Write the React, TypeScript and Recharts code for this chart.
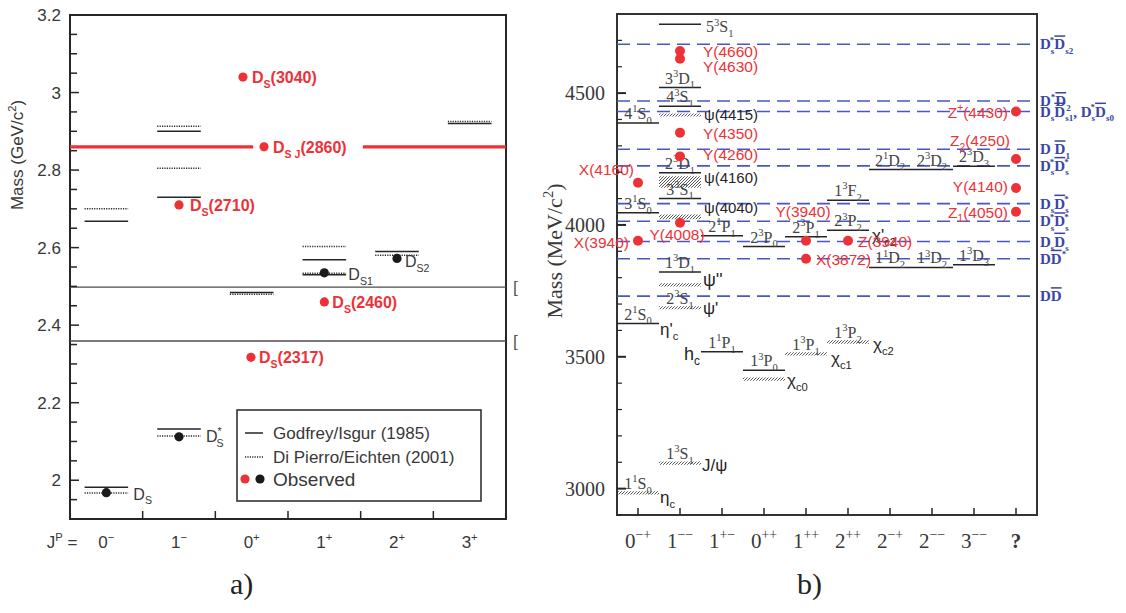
import React from 'react';
import { ComposedChart, XAxis, YAxis, ReferenceLine, ReferenceArea, Scatter, Legend } from 'recharts';

const SANS = '"Liberation Sans", Arial, Helvetica, sans-serif';
const SERIF = '"Liberation Serif", "Times New Roman", Times, serif';
const INK = '#262626';
const TEXT_GREY = '#383838';
const RED = '#ed3237';
const DASH_BLUE = '#4a56c2';
const LABEL_BLUE = '#3a45a5';

// ---------- a) D_s spectrum, masses in GeV/c^2 ----------
const A_JP = ['0^{−}', '1^{−}', '0^{+}', '1^{+}', '2^{+}', '3^{+}'];
// [J^P column, mass] — Godfrey/Isgur predictions (solid)
const A_GODFREY: [number, number][] = [
  [0, 1.982], [0, 2.668], [1, 2.132], [1, 2.73], [1, 2.9], [2, 2.484],
  [3, 2.53], [3, 2.569], [4, 2.59], [5, 2.92],
];
// [J^P column, mass] — Di Pierro/Eichten predictions (dotted)
const A_DIPIERRO: [number, number][] = [
  [0, 1.967], [0, 2.7], [1, 2.114], [1, 2.805], [1, 2.913], [2, 2.48],
  [3, 2.534], [3, 2.603], [4, 2.58], [5, 2.925],
];
const A_OBSERVED_BLACK = [
  { x: 0.5, y: 1.968, name: 'D_S' },
  { x: 1.5, y: 2.112, name: 'D^{*}_{S}' },
  { x: 3.5, y: 2.535, name: 'D_{S1}' },
  { x: 4.5, y: 2.572, name: 'D_{S2}' },
];
const A_OBSERVED_RED = [
  { x: 2.49, y: 2.317, name: 'D_S(2317)' },
  { x: 3.5, y: 2.46, name: 'D_S(2460)' },
  { x: 1.5, y: 2.71, name: 'D_S(2710)' },
  { x: 2.67, y: 2.86, name: 'D_{S J}(2860)' },
  { x: 2.38, y: 3.04, name: 'D_S(3040)' },
];
const A_THRESHOLDS = [2.359, 2.498];
const A_DSJ_MASS = 2.86;
const A_DSJ_SPANS: [number, number][] = [[0, 2.52], [4.03, 6]];
const A_Y_DOMAIN: [number, number] = [1.9, 3.2];
const A_YTICKS = Array.from({ length: 27 }, (_, i) => Math.round((1.9 + i * 0.05) * 100) / 100);
const A_XTICKS = Array.from({ length: 11 }, (_, i) => 0.5 + i * 0.5);

// label offsets (px) for observed states in panel a
const A_LABEL_PLACE: Record<string, [number, number]> = {
  'D_S': [27, 7], 'D^{*}_{S}': [27, 5], 'D_{S1}': [24, 7], 'D_{S2}': [8, 9],
  'D_S(2317)': [8, 6], 'D_S(2460)': [8, 6], 'D_S(2710)': [11, 6],
  'D_{S J}(2860)': [9, 6], 'D_S(3040)': [9, 6],
};

// ---------- b) charmonium spectrum, masses in MeV/c^2 ----------
const B_JPC = ['0^{−+}', '1^{−−}', '1^{+−}', '0^{++}', '1^{++}', '2^{++}', '2^{−+}', '2^{−−}', '3^{−−}', '?'];
// potential-model levels: [J^PC column, mass, n^{2S+1}L_J]
const B_MODEL: [number, number, string][] = [
  [0, 3626, '2^1S_0'], [0, 4046, '3^1S_0'], [0, 4387, '4^1S_0'],
  [1, 3822, '1^3D_1'], [1, 4100, '3^3S_1'], [1, 4198, '2^3D_1'], [1, 4450, '4^3S_1'],
  [1, 4521, '3^3D_1'], [1, 4761, '5^3S_1'],
  [2, 3519, '1^1P_1'], [2, 3959, '2^1P_1'],
  [3, 3449, '1^3P_0'], [3, 3918, '2^3P_0'],
  [4, 3955, '2^3P_1'],
  [5, 3980, '2^3P_2'], [5, 4094, '1^3F_2'],
  [6, 3839, '1^1D_2'], [6, 4210, '2^1D_2'],
  [7, 3839, '1^3D_2'], [7, 4210, '2^3D_2'],
  [8, 3849, '1^3D_3'], [8, 4223, '2^3D_3'],
];
// names attached to model levels
const B_MODEL_ALIAS: Record<string, string> = {
  '2^1S_0': "η'_c", '1^3D_1': "ψ''", '1^1P_1': 'h_c', '2^3P_2': "χ'_{c2}",
};
// established states (hatched): [column, mass, half width, n^{2S+1}L_J, name]
const B_KNOWN: [number, number, number, string, string][] = [
  [0, 2984, 6, '1^1S_0', 'η_c'],
  [1, 3097, 6, '1^3S_1', 'J/ψ'],
  [1, 3686, 6, '2^3S_1', "ψ'"],
  [1, 3773, 6, '', ''],
  [1, 4031, 9, '', 'ψ(4040)'],
  [1, 4163, 22, '', 'ψ(4160)'],
  [1, 4417, 6, '', 'ψ(4415)'],
  [3, 3415, 6, '', 'χ_{c0}'],
  [4, 3511, 6, '1^3P_1', 'χ_{c1}'],
  [5, 3556, 7, '1^3P_2', 'χ_{c2}'],
];
// open-charm thresholds: [mass, pair]  (~ marks an anti-particle bar)
const B_THRESHOLDS: [number, string][] = [
  [4685, 'D_s^*~D_{s2}'],
  [4470, 'D^*~D_2'],
  [4430, 'D_s~D_{s1}, D_s^*~D_{s0}'],
  [4287, 'D ~D_1'],
  [4224, 'D_s^*~D_s^*'],
  [4081, 'D_s~D_s^*'],
  [4014, 'D_s^*~D_s^*'],
  [3937, 'D_s~D_s'],
  [3872, 'D~D^*'],
  [3730, 'D~D'],
];
// XYZ states: [column centre, mass, name]
const B_XYZ: [number, number, string][] = [
  [1.5, 4660, 'Y(4660)'], [1.5, 4630, 'Y(4630)'], [1.5, 4350, 'Y(4350)'],
  [1.5, 4260, 'Y(4260)'], [1.5, 4008, 'Y(4008)'],
  [0.5, 4160, 'X(4160)'], [0.5, 3940, 'X(3940)'],
  [4.5, 3940, 'Y(3940)'], [4.5, 3872, 'X(3872)'], [5.5, 3940, 'Z(3940)'],
  [9.5, 4430, 'Z^+(4430)'], [9.5, 4250, 'Z_2(4250)'], [9.5, 4140, 'Y(4140)'], [9.5, 4050, 'Z_1(4050)'],
];
const B_Y_DOMAIN: [number, number] = [2900, 4800];
const B_YTICKS = Array.from({ length: 19 }, (_, i) => 2900 + i * 100);
const B_XTICKS = Array.from({ length: 10 }, (_, i) => i + 0.5);

// label offsets (px) and anchors in panel b
type Place = [number, number, 'start' | 'middle' | 'end', number?];
const B_PLACE: Record<string, Place> = {
  '5^3S_1': [26, 8, 'start'],
  "η'_c": [22, 11, 'start', 17],
  "ψ''": [23, 14, 'start', 18],
  'h_c': [-22, 8, 'end', 18],
  "χ'_{c2}": [24, 11, 'start', 17],
  'η_c': [22, 10, 'start', 17],
  'J/ψ': [22, 8, 'start', 17],
  "ψ'": [23, 6, 'start', 17],
  'ψ(4040)': [24, -4, 'start', 15],
  'ψ(4160)': [24, 1, 'start', 15],
  'ψ(4415)': [24, 5, 'start', 15],
  'χ_{c0}': [23, 7, 'start', 17],
  'χ_{c1}': [25, 10, 'start', 17],
  'χ_{c2}': [25, 8, 'start', 17],
};
const B_XYZ_PLACE: Record<string, Place> = {
  'Y(4660)': [23, 6, 'start'], 'Y(4630)': [23, 13, 'start'], 'Y(4350)': [23, 6, 'start'],
  'Y(4260)': [23, 4, 'start'], 'Y(4008)': [-3, 17, 'middle'],
  'X(4160)': [-4, -8, 'end'], 'X(3940)': [-9, 7, 'end'],
  'Y(3940)': [-3, -24, 'middle'], 'X(3872)': [10, 6, 'start'], 'Z(3940)': [10, 6, 'start'],
  'Z^+(4430)': [-8, 6, 'end'], 'Z_2(4250)': [-6, -13, 'end'], 'Y(4140)': [-8, 4, 'end'],
  'Z_1(4050)': [-8, 6, 'end'],
};

type Tag = { x: number; y: number; text: string; kind: 'term' | 'meson' | 'threshold' };
const B_TAGS: Tag[] = [
  ...B_MODEL.map(([c, m, t]) => ({ x: c + 0.5, y: m, text: t, kind: 'term' as const })),
  ...B_MODEL.filter(([, , t]) => B_MODEL_ALIAS[t]).map(([c, m, t]) => ({ x: c + 0.5, y: m, text: B_MODEL_ALIAS[t], kind: 'meson' as const })),
  ...B_KNOWN.filter((k) => k[3]).map(([c, m, , t]) => ({ x: c + 0.5, y: m, text: t, kind: 'term' as const })),
  ...B_KNOWN.filter((k) => k[4]).map(([c, m, , , n]) => ({ x: c + 0.5, y: m, text: n, kind: 'meson' as const })),
  ...B_THRESHOLDS.map(([m, t]) => ({ x: 10, y: m, text: t, kind: 'threshold' as const })),
];
const B_XYZ_PTS = B_XYZ.map(([x, y, name]) => ({ x, y, name }));

// ---------- small rich-text helper: a^b, a_b, a^{bc}, a_{bc}, ~X (overbar) ----------
type Seg = { t: string; k: 0 | 1 | -1; bar?: boolean };
function readGroup(s: string, i: number): [string, number] {
  if (s[i] === '{') {
    const j = s.indexOf('}', i + 1);
    return [s.slice(i + 1, j), j + 1];
  }
  return [s[i], i + 1];
}
function parseRich(s: string): Seg[] {
  const out: Seg[] = [];
  let buf = '';
  let i = 0;
  while (i < s.length) {
    const c = s[i];
    if ((c === '^' || c === '_' || c === '~') && i + 1 < s.length) {
      if (buf) { out.push({ t: buf, k: 0 }); buf = ''; }
      const [t, next] = readGroup(s, i + 1);
      i = next;
      if (c === '~') out.push({ t, k: 0, bar: true });
      else out.push({ t, k: c === '^' ? 1 : -1 });
    } else {
      buf += c;
      i += 1;
    }
  }
  if (buf) out.push({ t: buf, k: 0 });
  return out;
}

function Rich(props: {
  x: number; y: number; text: string; size: number; anchor?: string;
  fill?: string; family?: string; weight?: string | number; subScale?: number;
}) {
  const { x, y, text, size, anchor = 'start', fill = INK, family = SANS, weight = 'normal', subScale = 0.66 } = props;
  const segs = parseRich(text);
  const small = size * subScale;
  let cur = 0;
  return (
    <text x={x} y={y} fontSize={size} textAnchor={anchor as any} fill={fill} fontFamily={family} fontWeight={weight as any}>
      {segs.map((s, i) => {
        const target = s.k === 1 ? -size * 0.42 : s.k === -1 ? size * 0.3 : 0;
        const dy = target - cur;
        cur = target;
        const prev = segs[i - 1];
        const dx = s.k !== 0 && prev && prev.k === -s.k ? -prev.t.length * small * 0.5 : 0;
        return (
          <tspan key={i} dy={dy} dx={dx} fontSize={s.k === 0 ? size : small}
            textDecoration={s.bar ? 'overline' : undefined}>{s.t}</tspan>
        );
      })}
    </text>
  );
}

// ---------- panel a renderers ----------
const isMajorA = (v: number) => Math.abs(v * 5 - Math.round(v * 5)) < 1e-6;

function aTickLeft(p: any) {
  const v = p.payload.value as number;
  const x0 = p.x + 6;
  const major = isMajorA(v);
  return (
    <g>
      <line x1={x0} x2={x0 + (major ? 9 : 7)} y1={p.y} y2={p.y} stroke={INK} strokeWidth={1.5} />
      {major && (
        <text x={p.x - 3} y={p.y + 6} textAnchor="end" fontSize={17} fontFamily={SANS} fill={TEXT_GREY}>{String(v)}</text>
      )}
    </g>
  );
}
function aTickRight(p: any) {
  const v = p.payload.value as number;
  return <line x1={p.x} x2={p.x - (isMajorA(v) ? 9 : 7)} y1={p.y} y2={p.y} stroke={INK} strokeWidth={1.5} />;
}
function aTickTop(p: any) {
  return <line x1={p.x} x2={p.x} y1={p.y} y2={p.y + 8} stroke={INK} strokeWidth={1.5} />;
}
function aTickBottom(p: any) {
  const v = p.payload.value as number;
  if (Number.isInteger(v)) {
    return <line x1={p.x} x2={p.x} y1={p.y} y2={p.y - 8} stroke={INK} strokeWidth={1.5} />;
  }
  const idx = Math.floor(v);
  return (
    <g>
      {idx === 0 && <Rich x={p.x - 29} y={p.y + 29} text="J^P =" size={17} anchor="end" fill={TEXT_GREY} />}
      <Rich x={p.x} y={p.y + 29} text={A_JP[idx]} size={17} anchor="middle" fill={TEXT_GREY} />
    </g>
  );
}
function aObservedDot(fill: string, labelFill: string, weight: string) {
  return (p: any) => {
    const [dx, dy] = A_LABEL_PLACE[p.payload.name] ?? [9, 6];
    return (
      <g>
        <circle cx={p.cx} cy={p.cy} r={4.6} fill={fill} />
        <Rich x={p.cx + dx} y={p.cy + dy} text={p.payload.name} size={16} fill={labelFill} weight={weight} />
      </g>
    );
  };
}
function aBracket(p: any) {
  return <text x={p.cx + 7} y={p.cy + 6} fontSize={17} fontFamily={SANS} fill="#555">[</text>;
}
function ALegend() {
  return (
    <svg width={246} height={93} style={{ display: 'block' }}>
      <rect x={1} y={1} width={244} height={91} fill="#fff" stroke="#333" strokeWidth={1.6} />
      <line x1={9} x2={27} y1={24} y2={24} stroke={INK} strokeWidth={1.5} />
      <text x={37} y={30} fontSize={17} fontFamily={SANS} fill={TEXT_GREY}>Godfrey/Isgur (1985)</text>
      <line x1={9} x2={27} y1={48} y2={48} stroke="#2a2a2a" strokeWidth={1.5} strokeDasharray="1.2 1.2" />
      <text x={37} y={54} fontSize={17} fontFamily={SANS} fill={TEXT_GREY}>Di Pierro/Eichten (2001)</text>
      <circle cx={9} cy={70} r={4.6} fill={RED} />
      <circle cx={24} cy={70} r={4.6} fill="#1a1a1a" />
      <text x={37} y={77} fontSize={19} fontFamily={SANS} fill={TEXT_GREY}>Observed</text>
    </svg>
  );
}

function PanelA() {
  return (
    <ComposedChart width={540} height={613} margin={{ top: 15, right: 34, bottom: 0, left: 10 }}>
      <XAxis type="number" dataKey="x" domain={[0, 6]} ticks={A_XTICKS} interval={0}
        height={94} tickSize={0} tickMargin={0} axisLine={false} tickLine={false} tick={aTickBottom} />
      <XAxis xAxisId="top" orientation="top" type="number" domain={[0, 6]} ticks={[1, 2, 3, 4, 5]}
        interval={0} height={0} tickSize={0} tickMargin={0} axisLine={false} tickLine={false} tick={aTickTop} />
      <YAxis type="number" dataKey="y" domain={A_Y_DOMAIN} ticks={A_YTICKS} interval={0}
        width={60} tickSize={0} tickMargin={6} axisLine={false} tickLine={false} tick={aTickLeft}
        label={{
          content: (lp: any) => {
            const vb = lp.viewBox ?? { x: 10, y: 15 };
            return (
              <g transform={`translate(${vb.x + 13},${vb.y + 140}) rotate(-90)`}>
                <Rich x={0} y={0} text="Mass (GeV/c^2)" size={17} anchor="middle" fill={TEXT_GREY} />
              </g>
            );
          },
        }} />
      <YAxis yAxisId="right" orientation="right" type="number" domain={A_Y_DOMAIN} ticks={A_YTICKS}
        interval={0} width={0} tickSize={0} tickMargin={0} axisLine={false} tickLine={false} tick={aTickRight} />

      {A_THRESHOLDS.map((m) => (
        <ReferenceLine key={`th${m}`} y={m} stroke="#4d4d4d" strokeWidth={1.4} />
      ))}
      {A_DSJ_SPANS.map(([a, b]) => (
        <ReferenceLine key={`dsj${a}`} segment={[{ x: a, y: A_DSJ_MASS }, { x: b, y: A_DSJ_MASS }]} stroke={RED} strokeWidth={3.2} />
      ))}
      {A_GODFREY.map(([c, m]) => (
        <ReferenceLine key={`gi${c}-${m}`} segment={[{ x: c + 0.2, y: m }, { x: c + 0.8, y: m }]} stroke={INK} strokeWidth={1.5} />
      ))}
      {A_DIPIERRO.map(([c, m]) => (
        <ReferenceLine key={`dp${c}-${m}`} segment={[{ x: c + 0.2, y: m }, { x: c + 0.8, y: m }]} stroke="#2a2a2a" strokeWidth={1.5} strokeDasharray="1.2 1.2" />
      ))}
      <ReferenceArea x1={0} x2={6} y1={A_Y_DOMAIN[0]} y2={A_Y_DOMAIN[1]} fill="none" stroke={INK} strokeWidth={2} />

      <Scatter data={A_THRESHOLDS.map((m) => ({ x: 6, y: m }))} shape={aBracket} isAnimationActive={false} />
      <Scatter data={A_OBSERVED_BLACK} shape={aObservedDot('#1a1a1a', TEXT_GREY, 'normal')} isAnimationActive={false} />
      <Scatter data={A_OBSERVED_RED} shape={aObservedDot(RED, RED, 'bold')} isAnimationActive={false} />
      <Legend content={ALegend} layout="vertical" align="center" verticalAlign="middle"
        wrapperStyle={{ left: 236, top: 409, width: 246, height: 93 }} />
    </ComposedChart>
  );
}

// ---------- panel b renderers ----------
function bTickLeft(p: any) {
  const v = p.payload.value as number;
  const x0 = p.x + 12;
  const major = v % 500 === 0;
  return (
    <g>
      <line x1={x0} x2={x0 + (major ? 9 : 5)} y1={p.y} y2={p.y} stroke={INK} strokeWidth={major ? 2 : 1.2} />
      {major && (
        <text x={p.x} y={p.y + 7} textAnchor="end" fontSize={20} fontFamily={SERIF} fill={TEXT_GREY}>{v}</text>
      )}
    </g>
  );
}
function bTickRight(p: any) {
  const v = p.payload.value as number;
  const major = v % 500 === 0;
  return <line x1={p.x} x2={p.x - (major ? 9 : 5)} y1={p.y} y2={p.y} stroke={INK} strokeWidth={major ? 2 : 1.2} />;
}
function bTickBottom(p: any) {
  const idx = Math.floor(p.payload.value as number);
  const q = B_JPC[idx] === '?';
  return (
    <g>
      <line x1={p.x} x2={p.x} y1={p.y} y2={p.y - 7} stroke={INK} strokeWidth={1.5} />
      <Rich x={p.x} y={p.y + 33} text={B_JPC[idx]} size={21} anchor="middle" family={SERIF}
        fill={TEXT_GREY} weight={q ? 'bold' : 'normal'} />
    </g>
  );
}
function bTag(p: any) {
  const t: Tag = p.payload;
  if (t.kind === 'threshold') {
    return <Rich x={p.cx + 3} y={p.cy + 5} text={t.text} size={15} subScale={0.6} family={SERIF} weight="bold" fill={LABEL_BLUE} />;
  }
  const place = B_PLACE[t.text];
  if (t.kind === 'term') {
    const [dx, dy, anchor] = place ?? [0, -4, 'middle'];
    return <Rich x={p.cx + dx} y={p.cy + dy} text={t.text} size={16} anchor={anchor} family={SERIF} fill="#444" />;
  }
  const [dx, dy, anchor, size] = place ?? [23, 6, 'start', 16];
  return <Rich x={p.cx + dx} y={p.cy + dy} text={t.text} size={size ?? 16} anchor={anchor} family={SANS} fill={INK} />;
}
function bXyz(p: any) {
  const [dx, dy, anchor] = B_XYZ_PLACE[p.payload.name] ?? [10, 6, 'start'];
  return (
    <g>
      <circle cx={p.cx} cy={p.cy} r={5} fill={RED} />
      <Rich x={p.cx + dx} y={p.cy + dy} text={p.payload.name} size={15.5} anchor={anchor} fill={RED} />
    </g>
  );
}

function PanelB() {
  return (
    <ComposedChart width={586} height={613} margin={{ top: 14, right: 89, bottom: 0, left: 7 }}>
      <XAxis type="number" dataKey="x" domain={[0, 10]} ticks={B_XTICKS} interval={0}
        height={98} tickSize={0} tickMargin={0} axisLine={false} tickLine={false} tick={bTickBottom} />
      <YAxis type="number" dataKey="y" domain={B_Y_DOMAIN} ticks={B_YTICKS} interval={0}
        width={70} tickSize={0} tickMargin={12} axisLine={false} tickLine={false} tick={bTickLeft}
        label={{
          content: (lp: any) => {
            const vb = lp.viewBox ?? { x: 7, y: 14 };
            return (
              <g transform={`translate(${vb.x + 15},${vb.y + 237}) rotate(-90)`}>
                <Rich x={0} y={0} text="Mass  (MeV/c^2)" size={22} anchor="middle" family={SERIF} fill={TEXT_GREY} />
              </g>
            );
          },
        }} />
      <YAxis yAxisId="right" orientation="right" type="number" domain={B_Y_DOMAIN} ticks={B_YTICKS}
        interval={0} width={0} tickSize={0} tickMargin={0} axisLine={false} tickLine={false} tick={bTickRight} />

      {B_THRESHOLDS.map(([m]) => (
        <ReferenceLine key={`t${m}`} y={m} stroke={DASH_BLUE} strokeWidth={1.6} strokeDasharray="13 7" />
      ))}
      {B_KNOWN.map(([c, m, h]) => (
        <ReferenceArea key={`k${c}-${m}`} x1={c} x2={c + 1} y1={m - h} y2={m + h} fill="url(#hatch)" fillOpacity={1} stroke="none" />
      ))}
      {B_MODEL.map(([c, m, t]) => (
        <ReferenceLine key={t} segment={[{ x: c, y: m }, { x: c + 1, y: m }]} stroke={INK} strokeWidth={1.5} />
      ))}
      <ReferenceArea x1={0} x2={10} y1={B_Y_DOMAIN[0]} y2={B_Y_DOMAIN[1]} fill="none" stroke="#333" strokeWidth={2} />

      <Scatter data={B_TAGS} shape={bTag} isAnimationActive={false} />
      <Scatter data={B_XYZ_PTS} shape={bXyz} isAnimationActive={false} />
    </ComposedChart>
  );
}

export default function App() {
  const caption: React.CSSProperties = {
    position: 'absolute', top: 566, fontFamily: SERIF, fontSize: 30, color: '#222', lineHeight: '36px',
  };
  return (
    <div style={{ position: 'absolute', left: 0, top: 0, width: 1126, height: 613, background: '#fff', overflow: 'hidden' }}>
      <svg width={0} height={0} style={{ position: 'absolute' }}>
        <defs>
          <pattern id="hatch" patternUnits="userSpaceOnUse" width={3} height={3}>
            <rect width={3} height={3} fill="#fff" />
            <path d="M-1,1 L1,-1 M0,3 L3,0 M2,4 L4,2" stroke="#555" strokeWidth={1} />
          </pattern>
        </defs>
      </svg>
      <div style={{ position: 'absolute', left: 0, top: 0 }}>
        <PanelA />
      </div>
      <div style={{ position: 'absolute', left: 540, top: 0 }}>
        <PanelB />
      </div>
      <div style={{ ...caption, left: 230 }}>a)</div>
      <div style={{ ...caption, left: 797 }}>b)</div>
    </div>
  );
}
